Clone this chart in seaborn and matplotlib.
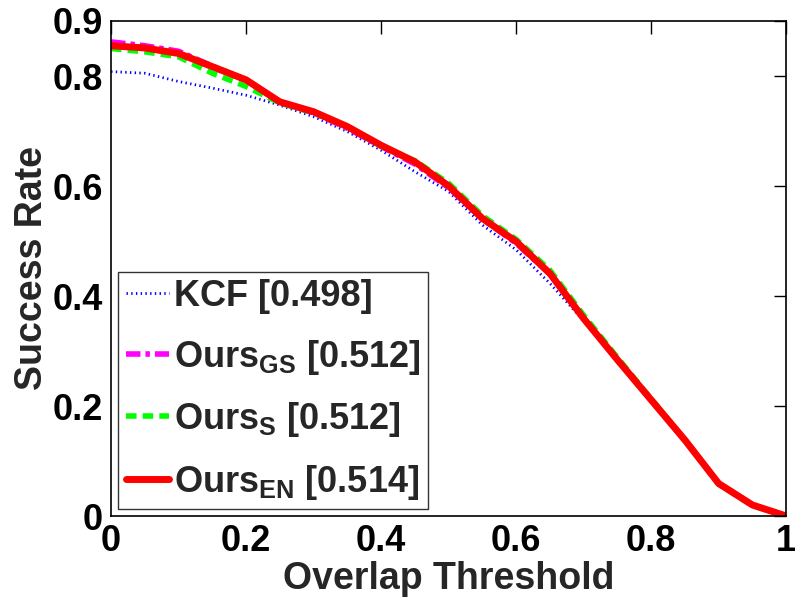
import matplotlib
matplotlib.use("Agg")
import matplotlib.pyplot as plt
import seaborn as sns
import numpy as np
import pandas as pd

# overlap thresholds and success rates
thresholds = [0.0, 0.05, 0.1, 0.15, 0.2, 0.25, 0.3, 0.35, 0.4, 0.45, 0.5,
              0.55, 0.6, 0.65, 0.7, 0.75, 0.8, 0.85, 0.9, 0.95, 1.0]
kcf = [0.808, 0.805, 0.790, 0.778, 0.765, 0.747, 0.726, 0.699, 0.665, 0.626, 0.590,
       0.529, 0.484, 0.423, 0.355, 0.280, 0.210, 0.137, 0.058, 0.020, 0.0]
ours_gs = [0.862, 0.855, 0.845, 0.818, 0.792, 0.753, 0.733, 0.705, 0.672, 0.640, 0.597,
           0.540, 0.496, 0.440, 0.360, 0.284, 0.211, 0.138, 0.059, 0.020, 0.0]
ours_s = [0.850, 0.844, 0.835, 0.805, 0.781, 0.751, 0.733, 0.708, 0.672, 0.646, 0.605,
          0.546, 0.503, 0.447, 0.365, 0.288, 0.213, 0.138, 0.058, 0.019, 0.0]
ours_en = [0.855, 0.851, 0.841, 0.817, 0.793, 0.753, 0.735, 0.708, 0.674, 0.644, 0.600,
           0.541, 0.499, 0.441, 0.359, 0.284, 0.211, 0.138, 0.059, 0.020, 0.0]

labels = ["KCF [0.498]",
          r"Ours$_{\mathbf{GS}}$ [0.512]",
          r"Ours$_{\mathbf{S}}$ [0.512]",
          r"Ours$_{\mathbf{EN}}$ [0.514]"]
series = [kcf, ours_gs, ours_s, ours_en]
colors = ["#0000ff", "#ff00ff", "#00ff00", "#ff0000"]
dash_patterns = [(0.5, 1.2), (2.6, 0.9, 0.8, 0.9), (1.9, 1.1), None]
widths = [2, 4, 4, 5]

sns.set_style("white")
plt.rcParams["font.family"] = ["Liberation Sans", "DejaVu Sans"]
plt.rcParams["font.weight"] = "bold"
plt.rcParams["mathtext.fontset"] = "custom"
plt.rcParams["mathtext.bf"] = "Liberation Sans:bold"
plt.rcParams["mathtext.rm"] = "Liberation Sans:bold"
plt.rcParams["mathtext.default"] = "bf"

fig = plt.figure(figsize=(7.99, 6.0), dpi=100)
ax = fig.add_axes([0.139, 0.14, 0.845, 0.825])

for vals, lab, c, dp, lw in zip(series, labels, colors, dash_patterns, widths):
    df = pd.DataFrame({"x": thresholds, "y": vals})
    sns.lineplot(data=df, x="x", y="y", ax=ax, color=c, linewidth=lw, label=lab)
    if dp is not None:
        ax.get_lines()[-1].set_dashes(dp)

ax.set_xlim(0, 1)
ax.set_ylim(0, 0.9)
ax.set_xticks([0, 0.2, 0.4, 0.6, 0.8, 1])
ax.set_xticklabels(["0", "0.2", "0.4", "0.6", "0.8", "1"])
ax.set_yticks([0, 0.2, 0.4, 0.6, 0.8, 0.9])
ax.set_yticklabels(["0", "0.2", "0.4", "0.6", "0.8", "0.9"])
ax.tick_params(direction="in", length=9, width=1, top=True, right=True,
               labelsize=26, pad=6, colors="black")
for s in ax.spines.values():
    s.set_visible(True)
    s.set_color("black")
    s.set_linewidth(1.2)

ax.set_xlabel("Overlap Threshold", fontsize=27, fontweight="bold", labelpad=1)
ax.set_ylabel("Success Rate", fontsize=27, fontweight="bold", labelpad=2)

leg = ax.legend(loc="lower left", fontsize=26, frameon=True, fancybox=False,
                handlelength=1.2, handletextpad=0.15, borderpad=0.2,
                labelspacing=0.65, borderaxespad=0.2)
leg.get_frame().set_edgecolor("black")
leg.get_frame().set_linewidth(1.0)

fig.savefig("out.png", dpi=100)
